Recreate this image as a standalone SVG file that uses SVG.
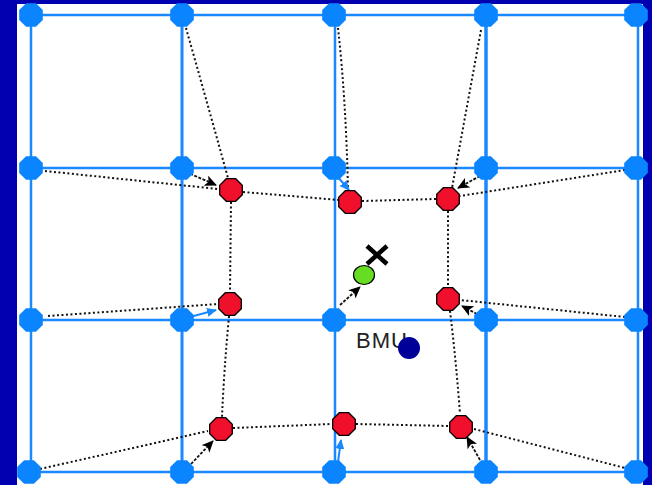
<svg xmlns="http://www.w3.org/2000/svg" xmlns:xlink="http://www.w3.org/1999/xlink" width="652" height="485" viewBox="0 0 652 485">
<style>
.grid{stroke:#1a88ff;fill:none}
.dot{stroke:#111;stroke-width:2;fill:none;stroke-dasharray:2 2.5}
.arr{stroke:#111;stroke-width:1.8;fill:none;stroke-dasharray:3 1.5}
.barr{stroke:#1a88ff;stroke-width:2;fill:none}
.bn{fill:#0a84ff}
.rn{fill:#f0102c;stroke:#000;stroke-width:1.3}
</style>
<defs>
<polygon id="bnode" points="11.8,4.9 4.9,11.8 -4.9,11.8 -11.8,4.9 -11.8,-4.9 -4.9,-11.8 4.9,-11.8 11.8,-4.9"/>
<polygon id="rnode" points="11.3,4.7 4.7,11.3 -4.7,11.3 -11.3,4.7 -11.3,-4.7 -4.7,-11.3 4.7,-11.3 11.3,-4.7"/>
<marker id="ah" markerUnits="userSpaceOnUse" markerWidth="12" markerHeight="11" refX="11" refY="5.5" orient="auto" viewBox="0 0 12 11">
<path d="M0,0 L12,5.5 L0,11 L3,5.5 z" fill="#000"/>
</marker>
<marker id="bah" markerUnits="userSpaceOnUse" markerWidth="10" markerHeight="9" refX="9" refY="4.5" orient="auto" viewBox="0 0 10 9">
<path d="M0,0 L10,4.5 L0,9 z" fill="#1a88ff"/>
</marker>
</defs>
<rect x="0" y="0" width="652" height="485" fill="#0000b0"/>
<rect x="17" y="4" width="626" height="481" fill="#ffffff"/>

<g id="grid">
<line class="grid" x1="31" y1="15" x2="638" y2="15" stroke-width="2.5"/>
<line class="grid" x1="31" y1="168" x2="638" y2="168" stroke-width="2.5"/>
<line class="grid" x1="31" y1="320" x2="638" y2="320" stroke-width="2.5"/>
<line class="grid" x1="31" y1="472" x2="638" y2="472" stroke-width="2.5"/>
<line class="grid" x1="31" y1="15" x2="31" y2="472" stroke-width="2.5"/>
<line class="grid" x1="182" y1="15" x2="182" y2="472" stroke-width="3"/>
<line class="grid" x1="335" y1="15" x2="335" y2="472" stroke-width="2.5"/>
<line class="grid" x1="486" y1="15" x2="486" y2="472" stroke-width="3.5"/>
<line class="grid" x1="638" y1="15" x2="638" y2="472" stroke-width="2.5"/>
</g>

<g id="connectors">
<path class="dot" d="M186,28 Q205,95 228,178"/>
<path class="dot" d="M45,171 L218,189"/>
<path class="dot" d="M338,28 Q346,100 348,190"/>
<path class="dot" d="M481,30 L452,188"/>
<path class="dot" d="M625,170 L460,196"/>
<path class="dot" d="M243,192 L339,200"/>
<path class="dot" d="M362,201 L436,199"/>
<path class="dot" d="M231,202 L230,292"/>
<path class="dot" d="M448,211 L448,287"/>
<path class="dot" d="M48,316 L218,304"/>
<path class="dot" d="M229,316 Q224,370 222,417"/>
<path class="dot" d="M450,311 Q456,360 460,414"/>
<path class="dot" d="M625,317 L460,300"/>
<path class="dot" d="M40,469 L208,431"/>
<path class="dot" d="M233,428 L332,424"/>
<path class="dot" d="M356,424 L449,426"/>
<path class="dot" d="M474,429 L625,468"/>

<path class="arr" d="M186,172 L216,185" marker-end="url(#ah)"/>
<path class="arr" d="M480,176 L458,188" marker-end="url(#ah)"/>
<path class="arr" d="M340,305 L360,287" marker-end="url(#ah)"/>
<path class="arr" d="M191,464 L213,441" marker-end="url(#ah)"/>
<path class="arr" d="M480,460 L467,437" marker-end="url(#ah)"/>
<path class="arr" d="M477,314 L462,306" marker-end="url(#ah)"/>

<path class="barr" d="M337,176 L349,190" marker-end="url(#bah)"/>
<path class="barr" d="M190,317 L216,310" marker-end="url(#bah)"/>
<path class="barr" d="M338,462 L341,440" marker-end="url(#bah)"/>
</g>

<g id="blue-nodes" class="bn">
<use xlink:href="#bnode" x="31" y="15"/>
<use xlink:href="#bnode" x="182" y="15"/>
<use xlink:href="#bnode" x="334" y="15"/>
<use xlink:href="#bnode" x="486" y="15"/>
<use xlink:href="#bnode" x="636" y="15"/>
<use xlink:href="#bnode" x="31" y="168"/>
<use xlink:href="#bnode" x="182" y="168"/>
<use xlink:href="#bnode" x="334" y="168"/>
<use xlink:href="#bnode" x="486" y="168"/>
<use xlink:href="#bnode" x="636" y="168"/>
<use xlink:href="#bnode" x="31" y="320"/>
<use xlink:href="#bnode" x="182" y="320"/>
<use xlink:href="#bnode" x="334" y="320"/>
<use xlink:href="#bnode" x="486" y="320"/>
<use xlink:href="#bnode" x="636" y="320"/>
<use xlink:href="#bnode" x="29" y="472"/>
<use xlink:href="#bnode" x="182" y="472"/>
<use xlink:href="#bnode" x="334" y="472"/>
<use xlink:href="#bnode" x="486" y="472"/>
<use xlink:href="#bnode" x="636" y="472"/>
</g>

<g id="red-nodes" class="rn">
<use xlink:href="#rnode" x="231" y="190"/>
<use xlink:href="#rnode" x="350" y="202"/>
<use xlink:href="#rnode" x="448" y="199"/>
<use xlink:href="#rnode" x="230" y="304"/>
<use xlink:href="#rnode" x="448" y="299"/>
<use xlink:href="#rnode" x="221" y="429"/>
<use xlink:href="#rnode" x="344" y="424"/>
<use xlink:href="#rnode" x="461" y="427"/>
</g>

<g id="winner">
<ellipse cx="364" cy="275" rx="10.5" ry="9.5" fill="#66dd22" stroke="#000" stroke-width="1.2"/>
</g>

<g id="input-x">
<path d="M367,246 L387,264 M387,246 L367,264" stroke="#000" stroke-width="4.5" fill="none"/>
</g>

<g id="bmu">
<text x="356" y="348" font-family="Liberation Sans, Arial, sans-serif" font-size="22" letter-spacing="1" fill="#222">BMU</text>
<circle cx="409" cy="348" r="11" fill="#000099"/>
</g>
</svg>
